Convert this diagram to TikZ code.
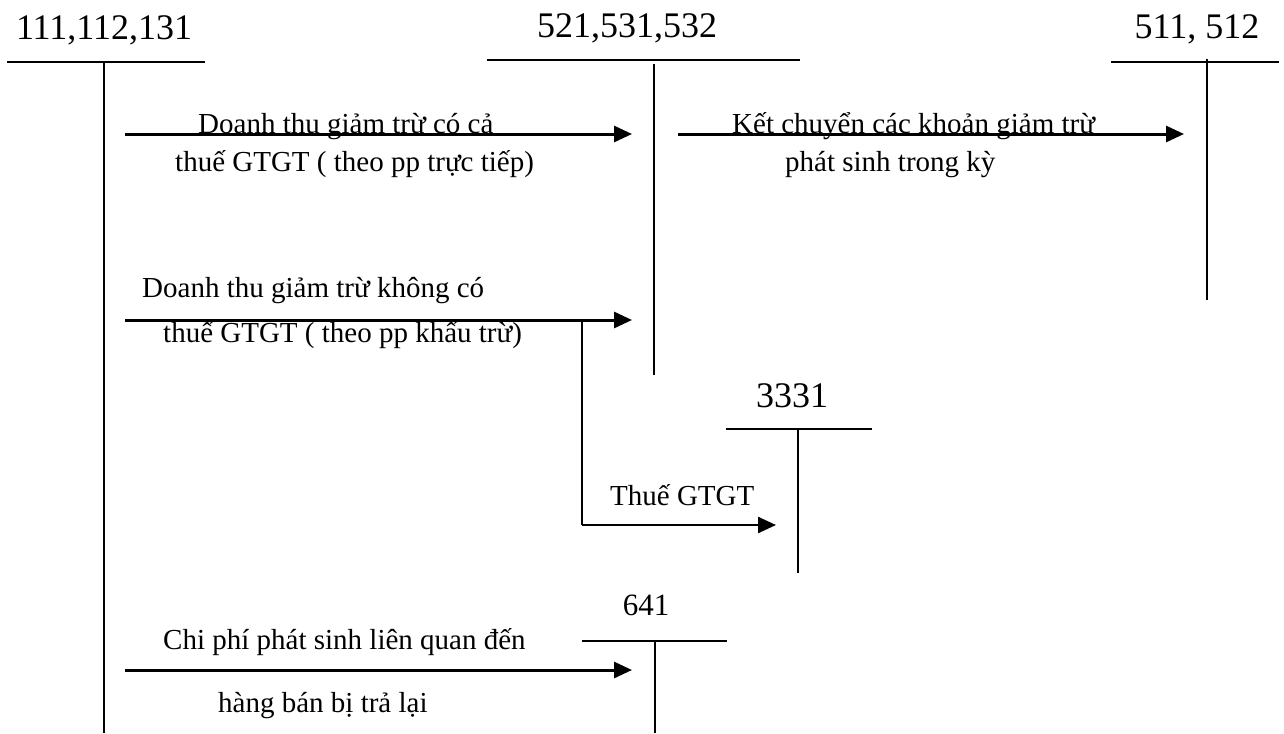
\documentclass[tikz,border=0pt]{standalone}
\usepackage{fontspec}
\setmainfont{Liberation Serif}
\usetikzlibrary{arrows.meta}

\tikzset{
  acct/.style={line width=1.9pt, line cap=butt},
  flow/.style={line width=3pt, -{Triangle[length=18pt,width=16pt]}},
  branch/.style={line width=1.9pt},
  bignum/.style={anchor=base, inner sep=0pt, font=\fontsize{36}{40}\selectfont},
  midnum/.style={anchor=base, inner sep=0pt, font=\fontsize{31}{36}\selectfont},
  note/.style={anchor=base west, inner sep=0pt, font=\fontsize{29}{34}\selectfont},
}

\begin{document}
\begin{tikzpicture}[x=1pt, y=-1pt]
  \useasboundingbox (0,0) rectangle (1284,733);

  % --- T-account 111,112,131
  \node[bignum] (nA) at (104,40) {111,112,131};
  \coordinate (aL) at (7,62);   \coordinate (aR) at (205,62);
  \coordinate (aT) at (104,62); \coordinate (aB) at (104,733);
  \draw[acct] (aL) -- (aR);
  \draw[acct] (aT) -- (aB);

  % --- T-account 521,531,532
  \node[bignum] (nB) at (627,38) {521,531,532};
  \coordinate (bL) at (487,60);  \coordinate (bR) at (800,60);
  \coordinate (bT) at (654,64);  \coordinate (bB) at (654,375);
  \draw[acct] (bL) -- (bR);
  \draw[acct] (bT) -- (bB);

  % --- T-account 511, 512
  \node[bignum] (nC) at (1197,39) {511, 512};
  \coordinate (cL) at (1111,62); \coordinate (cR) at (1279,62);
  \coordinate (cT) at (1207,59); \coordinate (cB) at (1207,300);
  \draw[acct] (cL) -- (cR);
  \draw[acct] (cT) -- (cB);

  % --- T-account 3331
  \node[bignum] (nD) at (792,407) {3331};
  \coordinate (dL) at (726,429); \coordinate (dR) at (872,429);
  \coordinate (dT) at (798,429); \coordinate (dB) at (798,573);
  \draw[acct] (dL) -- (dR);
  \draw[acct] (dT) -- (dB);

  % --- T-account 641
  \node[midnum] (nE) at (646,615) {641};
  \coordinate (eL) at (582,641); \coordinate (eR) at (727,641);
  \coordinate (eT) at (655,641); \coordinate (eB) at (655,733);
  \draw[acct] (eL) -- (eR);
  \draw[acct] (eT) -- (eB);

  % --- flow 1: 111 -> 521 (direct method)
  \coordinate (f1s) at (125,134); \coordinate (f1e) at (632,134);
  \draw[flow] (f1s) -- (f1e);
  \node[note] (l1a) at (198,133) {Doanh thu giảm trừ có cả};
  \node[note] (l1b) at (175,171) {thuế GTGT ( theo pp trực tiếp)};

  % --- flow 2: 521 -> 511 (closing transfer)
  \coordinate (f2s) at (678,134); \coordinate (f2e) at (1184,134);
  \draw[flow] (f2s) -- (f2e);
  \node[note] (l2a) at (732,133) {Kết chuyển các khoản giảm trừ};
  \node[note] (l2b) at (785,171) {phát sinh trong kỳ};

  % --- flow 3: 111 -> 521 (deduction method), branch to 3331
  \coordinate (f3s) at (125,320); \coordinate (f3e) at (632,320);
  \draw[flow] (f3s) -- (f3e);
  \node[note] (l3a) at (142,297) {Doanh thu giảm trừ không có};
  \node[note] (l3b) at (163,342) {thuế GTGT ( theo pp khấu trừ)};
  \coordinate (g1) at (582,320); \coordinate (g2) at (582,525);
  \coordinate (g3) at (776,525);
  \draw[branch] (g1) -- (g2);
  \draw[flow, line width=2.4pt] (g2) -- (g3);
  \node[note] (l4) at (610,505) {Thuế GTGT};

  % --- flow 4: 111 -> 641
  \coordinate (f4s) at (125,670); \coordinate (f4e) at (632,670);
  \draw[flow] (f4s) -- (f4e);
  \node[note] (l5a) at (163,649) {Chi phí phát sinh liên quan đến};
  \node[note] (l5b) at (218,712) {hàng bán bị trả lại};
\end{tikzpicture}
\end{document}
